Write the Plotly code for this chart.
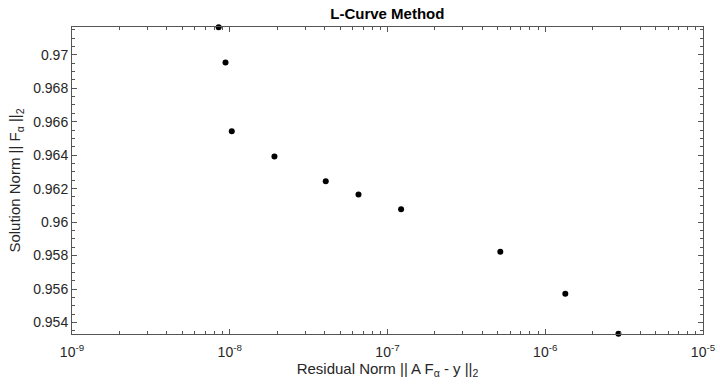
import plotly.graph_objects as go

residual_norm = [8.5e-9, 9.4e-9, 1.03e-8, 1.92e-8, 4.06e-8, 6.55e-8, 1.22e-7, 5.19e-7, 1.34e-6, 2.91e-6]
solution_norm = [0.97165, 0.96954, 0.96543, 0.96392, 0.96244, 0.96165, 0.96076, 0.95823, 0.95572, 0.95332]

x_tick_exponents = [-9, -8, -7, -6, -5]
x_tick_labels = ["10<sup>%d</sup>" % e for e in x_tick_exponents]
x_range_log = [-9, -5]
y_range = [0.95331, 0.97166]
x_minor_ticks = [m * 10.0 ** e for e in range(-9, -5) for m in range(2, 10)]

axis_color = "#555555"
font_family = "Liberation Sans, Arial, sans-serif"

fig = go.Figure()
fig.add_trace(go.Scatter(
    x=residual_norm, y=solution_norm, mode="markers",
    marker=dict(color="black", size=6),
    cliponaxis=False, showlegend=False,
))

fig.update_layout(
    width=720, height=385,
    margin=dict(l=72, r=17, t=27, b=51),
    paper_bgcolor="white", plot_bgcolor="white",
    font=dict(family=font_family, size=14, color="#262626"),
    title=dict(text="<b>L-Curve Method</b>", x=0.538, xanchor="center",
               y=1 - 14 / 385, yanchor="middle", yref="container",
               font=dict(size=15, color="black")),
)

fig.update_xaxes(
    type="log", range=x_range_log,
    tickmode="array", tickvals=[10.0 ** e for e in x_tick_exponents], ticktext=x_tick_labels,
    showgrid=False, zeroline=False, automargin=False,
    showline=True, linecolor=axis_color, linewidth=1, mirror="allticks",
    ticks="inside", ticklen=5, tickcolor=axis_color, ticklabelstandoff=5,
    minor=dict(ticks="inside", ticklen=3, tickcolor=axis_color, showgrid=False,
               tickmode="array", tickvals=x_minor_ticks),
    tickfont=dict(size=14, color="#262626"),
    title=dict(text="Residual Norm || A F<sub>α</sub> - y ||<sub>2</sub>", standoff=4,
               font=dict(size=15, color="#262626")),
)

fig.update_yaxes(
    range=y_range, dtick=0.002, tick0=0.95,
    showgrid=False, zeroline=False, automargin=False,
    showline=True, linecolor=axis_color, linewidth=1, mirror="allticks",
    ticks="inside", ticklen=5, tickcolor=axis_color,
    minor=dict(ticks="inside", ticklen=3, dtick=0.0005, tickcolor=axis_color, showgrid=False),
    tickfont=dict(size=14, color="#262626"),
    title=dict(text="Solution Norm || F<sub>α</sub> ||<sub>2</sub>", standoff=8,
               font=dict(size=15, color="#262626")),
)

fig.write_html("out.html")
